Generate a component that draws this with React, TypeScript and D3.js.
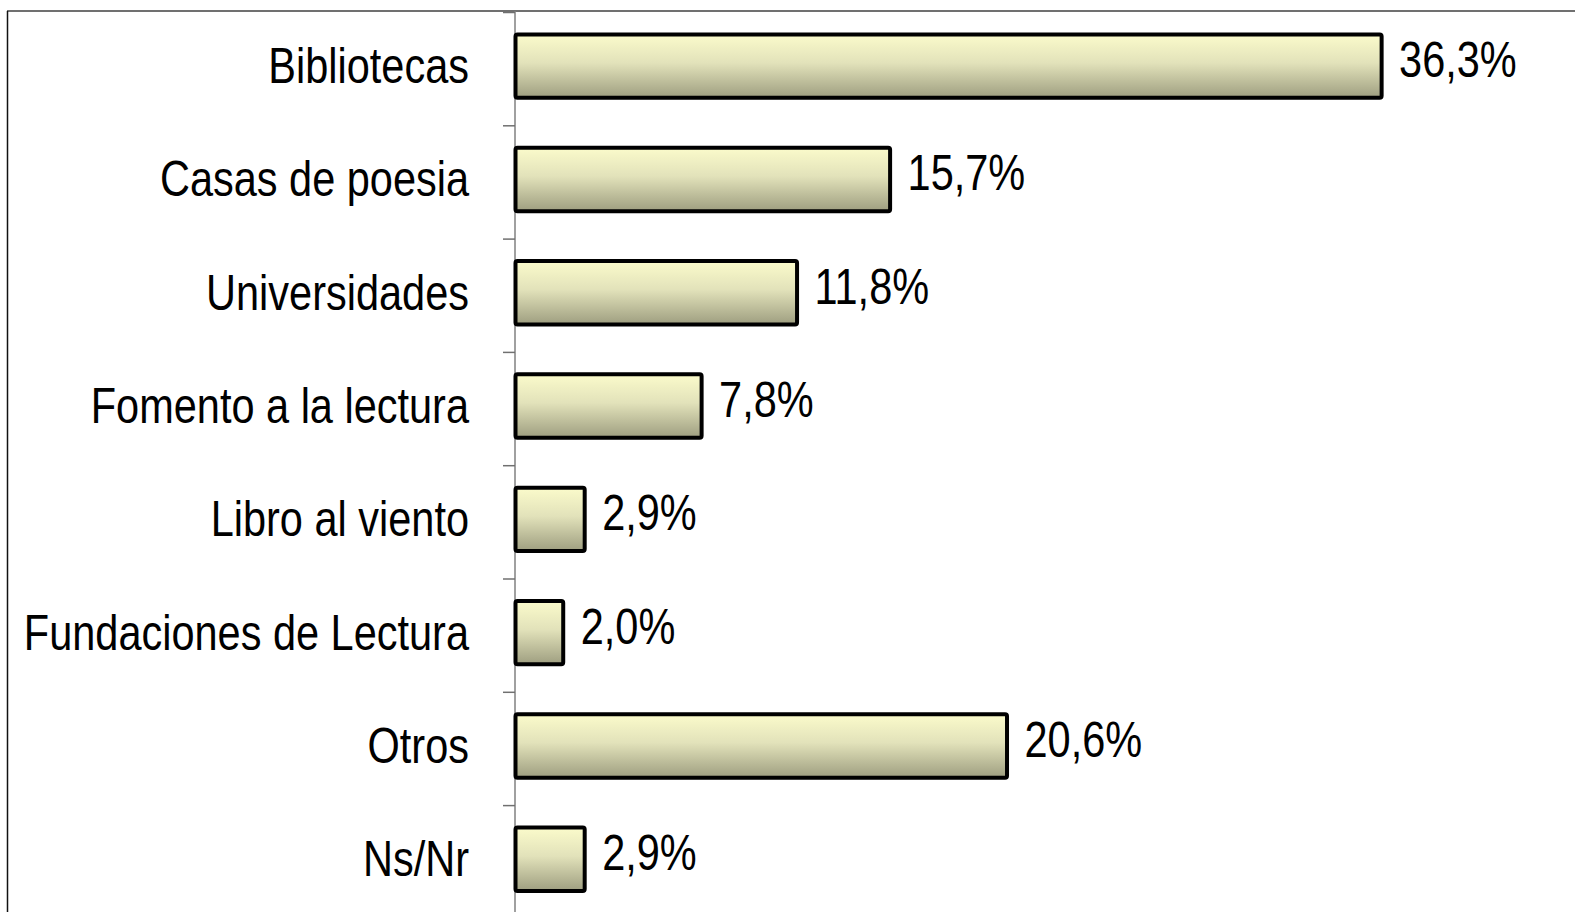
import React from "react";
import * as d3 from "d3";

const categories = [
  "Bibliotecas",
  "Casas de poesia",
  "Universidades",
  "Fomento a la lectura",
  "Libro al viento",
  "Fundaciones de Lectura",
  "Otros",
  "Ns/Nr",
];
const values = [36.3, 15.7, 11.8, 7.8, 2.9, 2.0, 20.6, 2.9];
const valueLabels = ["36,3%", "15,7%", "11,8%", "7,8%", "2,9%", "2,0%", "20,6%", "2,9%"];

const W = 1575;
const H = 912;
const FONT = "'Liberation Sans', Arial, sans-serif";
const SX = 0.83;

export default function App() {
  const axisX = 515;
  const y = d3.scaleBand<string>().domain(categories).range([12.5, 918.9]).padding(0);
  const x = d3.scaleLinear().domain([0, 40]).range([axisX, axisX + 954.4]);
  const bw = y.bandwidth();
  const barH = bw * 0.56;
  const tickYs = categories.map((c) => y(c) as number);

  return (
    <svg
      width={W}
      height={H}
      style={{ position: "absolute", left: 0, top: 0, background: "#fff" }}
      fontFamily={FONT}
    >
      <defs>
        <linearGradient id="barGrad" x1="0" y1="0" x2="0" y2="1">
          <stop offset="0" stopColor="#fbfbcb" />
          <stop offset="0.45" stopColor="#e2e2ba" />
          <stop offset="1" stopColor="#9e9e80" />
        </linearGradient>
      </defs>
      {/* frame */}
      <line x1={7} y1={11} x2={W} y2={11} stroke="#404040" strokeWidth={1.5} />
      <line x1={7.5} y1={11} x2={7.5} y2={H} stroke="#111" strokeWidth={1.5} />
      {/* axis */}
      <line x1={axisX} y1={11} x2={axisX} y2={H} stroke="#808080" strokeWidth={1.5} />
      {tickYs.map((t, i) => (
        <line key={"t" + i} x1={axisX - 12} y1={t} x2={axisX} y2={t} stroke="#707070" strokeWidth={1.5} />
      ))}
      {categories.map((c, i) => {
        const cy = (y(c) as number) + bw / 2;
        const xe = x(values[i]);
        return (
          <g key={c}>
            <rect
              x={axisX + 0.5}
              y={cy - barH / 2 - 3}
              width={xe - axisX}
              height={barH}
              fill="url(#barGrad)"
              stroke="#000"
              strokeWidth={4}
              rx={2}
            />
            <text
              transform={`translate(469,${cy + 14}) scale(${SX},1)`}
              textAnchor="end"
              fontSize={50}
              fill="#000"
            >
              {c}
            </text>
            <text
              transform={`translate(${xe + 18},${cy + 8}) scale(${SX},1)`}
              fontSize={50}
              fill="#000"
            >
              {valueLabels[i]}
            </text>
          </g>
        );
      })}
    </svg>
  );
}
